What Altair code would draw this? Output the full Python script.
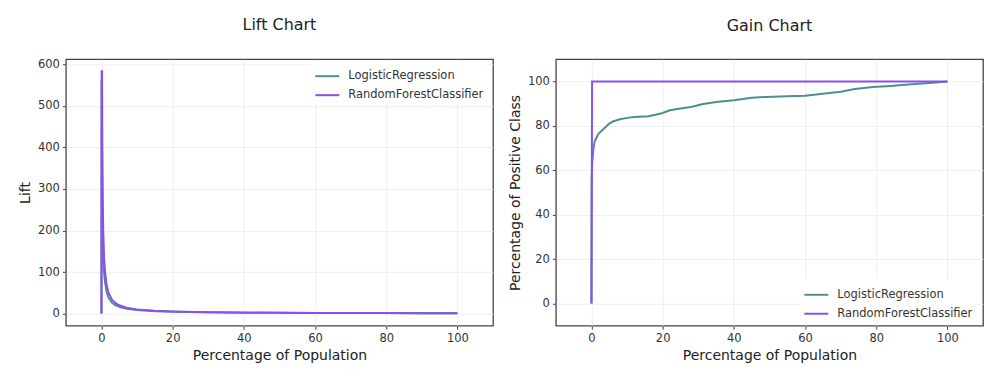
import altair as alt
import pandas as pd

FONT = "DejaVu Sans"
TEAL = "#4d8f8f"
PURPLE = "#8c4ef0"
SERIES = ["LogisticRegression", "RandomForestClassifier"]

# Lift chart data
lift_x_lr = [0, 0.05, 0.17, 0.25, 0.35, 0.5, 0.75, 1, 1.5, 2, 3, 4, 5, 7, 10, 15, 20, 30, 40, 50, 60, 70, 80, 90, 100]
lift_y_lr = [0, 560, 390, 270, 200, 140, 97, 75, 50, 38, 26, 20, 16.3, 11.8, 8.4, 5.6, 4.3, 3.0, 2.3, 1.86, 1.56, 1.37, 1.22, 1.09, 1.0]
lift_x_rf = [0, 0.05, 0.17, 0.25, 0.35, 0.5, 0.75, 1, 1.5, 2, 3, 4, 5, 7, 10, 15, 20, 30, 40, 50, 60, 70, 80, 90, 100]
lift_y_rf = [0, 583, 583, 400, 286, 200, 133, 100, 67, 50, 33, 25, 20, 14.3, 10, 6.7, 5, 3.3, 2.5, 2, 1.67, 1.43, 1.25, 1.11, 1]

# Gain chart data
gain_x_lr = [0, 0.05, 0.2, 0.5, 0.9, 1.5, 2, 3, 4, 5, 6, 8, 10, 12, 16, 18, 20, 22, 25, 28, 31, 35, 40, 45, 49,
             55, 60, 65, 70, 74, 79, 84, 88, 94, 100]
gain_y_lr = [0, 55, 63, 69, 73, 75, 76.5, 78, 79.5, 81, 82, 83, 83.6, 84, 84.3, 85, 85.8, 87, 87.8, 88.5, 89.7,
             90.7, 91.5, 92.7, 93, 93.3, 93.6, 94.5, 95.4, 96.6, 97.5, 98, 98.5, 99.2, 100]
gain_x_rf = [0, 0.17, 100]
gain_y_rf = [0, 100, 100]

x_ticks = [0, 20, 40, 60, 80, 100]
lift_ticks = [0, 100, 200, 300, 400, 500, 600]
gain_ticks = [0, 20, 40, 60, 80, 100]


def frame(xs, ys, name):
    return pd.DataFrame({"x": xs, "y": ys, "model": name, "i": list(range(len(xs)))})


color_scale = alt.Scale(domain=SERIES, range=[TEAL, PURPLE])


def panel(df_lr, df_rf, title, ytitle, ydomain, yticks, lx, ly):
    legend = alt.Legend(
        title=None, orient="none", legendX=lx, legendY=ly, symbolType="stroke", symbolSize=576,
        symbolStrokeWidth=2, labelFont=FONT, labelFontSize=11.5, labelColor="#333",
        labelOffset=8, fillColor="white", padding=3, rowPadding=-7,
    )
    x = alt.X("x:Q", scale=alt.Scale(domain=[-10, 110], nice=False, zero=False),
              axis=alt.Axis(values=x_ticks, title="Percentage of Population"))
    y = alt.Y("y:Q", scale=alt.Scale(domain=ydomain, nice=False, zero=False),
              axis=alt.Axis(values=yticks, title=ytitle))
    base = lambda d: alt.Chart(d).mark_line(strokeWidth=2, clip=True).encode(
        x=x, y=y, order="i:Q",
        color=alt.Color("model:N", scale=color_scale, legend=legend),
    )
    return alt.layer(base(df_lr), base(df_rf)).properties(
        width=428, height=267,
        title=alt.TitleParams(title, font=FONT, fontSize=16, fontWeight="normal", color="#222", offset=25),
    )


left = panel(frame(lift_x_lr, lift_y_lr, SERIES[0]), frame(lift_x_rf, lift_y_rf, SERIES[1]),
             "Lift Chart", "Lift", [-29.15, 612.15], lift_ticks, 246, 1)
right = panel(frame(gain_x_lr, gain_y_lr, SERIES[0]), frame(gain_x_rf, gain_y_rf, SERIES[1]),
              "Gain Chart", "Percentage of Positive Class", [-10, 110], gain_ticks, 245, 220)

chart = alt.hconcat(left, right, spacing=63, bounds="flush").resolve_legend(color="independent").properties(
    padding={"left": 17, "top": 16, "right": 2, "bottom": 5},
    background="white",
).configure_view(stroke="#444", strokeWidth=1.3).configure_axis(
    grid=True, gridColor="#ebebeb", gridWidth=0.8, domain=False,
    tickColor="#444", tickSize=3.5, labelFont=FONT, labelFontSize=11.5, labelColor="#333",
    labelPadding=3, titleFont=FONT, titleFontSize=14, titleFontWeight="normal", titleColor="#222",
    titlePadding=5,
)

chart.save("out.html", embed_options={"renderer": "svg", "actions": False})
